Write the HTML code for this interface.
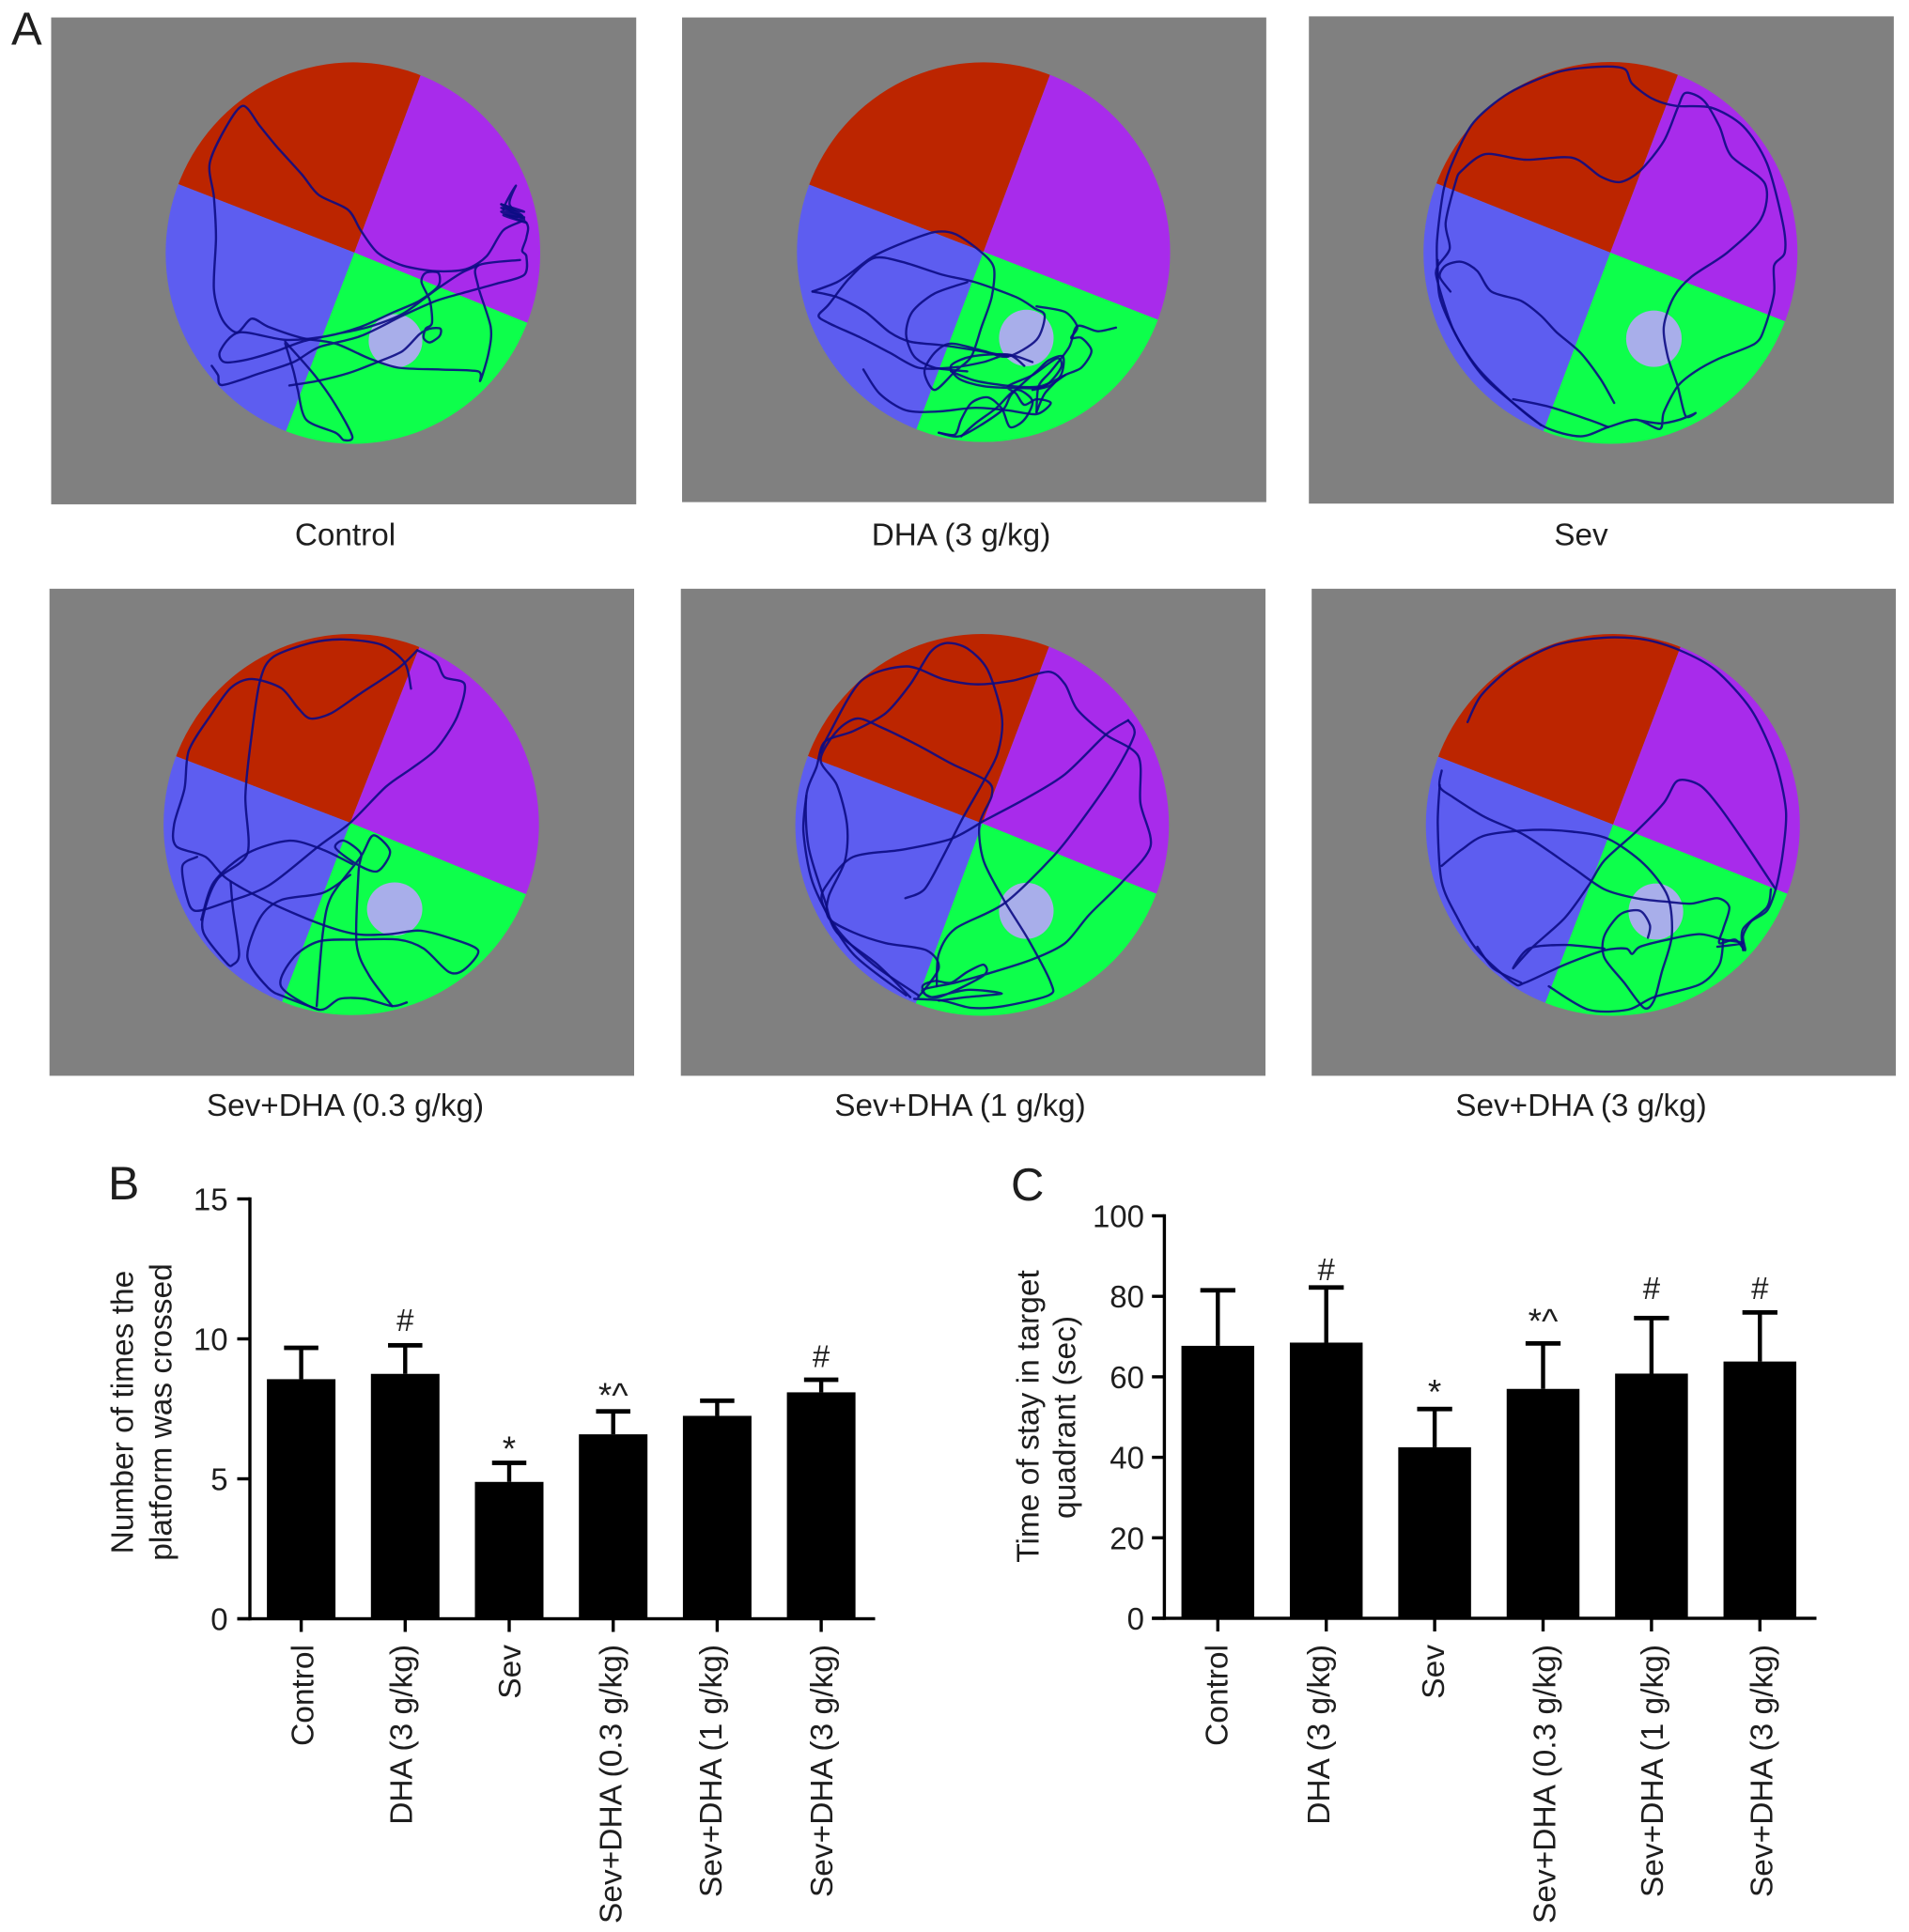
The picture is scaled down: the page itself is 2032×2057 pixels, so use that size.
<!DOCTYPE html>
<html lang="en">
<head>
<meta charset="utf-8">
<title>Water maze trajectories and platform crossing results</title>
<style>
  html, body { margin: 0; padding: 0; background: #ffffff; }
  body { width: 2032px; height: 2057px; overflow: hidden; }
  svg { display: block; }
  text { font-family: "Liberation Sans", Arial, sans-serif; fill: #1e1e1e; }
</style>
</head>
<body>
<svg id="figure" xmlns="http://www.w3.org/2000/svg" width="2032" height="2057" viewBox="0 0 2032 2057">
  <rect x="0" y="0" width="2032" height="2057" fill="#ffffff"/>
  <g id="arenas"></g>
  <g id="chart-b"></g>
  <g id="chart-c"></g>

  <text x="12" y="47.5" font-size="49">A</text>
  <text x="115" y="1277" font-size="50">B</text>
  <text x="1076" y="1278" font-size="49">C</text>

  <text x="367.5" y="580.5" font-size="33.3" text-anchor="middle">Control</text>
  <text x="1023" y="580.5" font-size="33.3" text-anchor="middle">DHA (3 g/kg)</text>
  <text x="1683" y="580.5" font-size="33.3" text-anchor="middle">Sev</text>
  <text x="367.5" y="1188" font-size="33.3" text-anchor="middle">Sev+DHA (0.3 g/kg)</text>
  <text x="1022" y="1188" font-size="33.3" text-anchor="middle">Sev+DHA (1 g/kg)</text>
  <text x="1683" y="1188" font-size="33.3" text-anchor="middle">Sev+DHA (3 g/kg)</text>

  <text font-size="33.5" text-anchor="middle" transform="translate(141.6 1503.5) rotate(-90)">Number of times the</text>
  <text font-size="33.5" text-anchor="middle" transform="translate(182.6 1503.5) rotate(-90)">platform was crossed</text>
  <text font-size="33.5" text-anchor="middle" transform="translate(1105.5 1508) rotate(-90)">Time of stay in target</text>
  <text font-size="33.5" text-anchor="middle" transform="translate(1144.7 1509) rotate(-90)">quadrant (sec)</text>
</svg>

<script>
// ---------- chart data ----------
const categories = ["Control", "DHA (3 g/kg)", "Sev", "Sev+DHA (0.3 g/kg)", "Sev+DHA (1 g/kg)", "Sev+DHA (3 g/kg)"];

const crossingsMean = [8.56, 8.75, 4.89, 6.59, 7.25, 8.09];
const crossingsError = [1.12, 1.02, 0.68, 0.82, 0.54, 0.45];
const crossingsTicks = [0, 5, 10, 15];
const crossingsMarks = ["", "#", "*", "*^", "", "#"];
const crossingsMarkGap = [0, 0.52, 0.09, 0.16, 0, 0.45];

const quadrantMean = [67.7, 68.5, 42.5, 57, 60.8, 63.8];
const quadrantError = [13.8, 13.7, 9.5, 11.3, 13.8, 12.2];
const quadrantTicks = [0, 20, 40, 60, 80, 100];
const quadrantMarks = ["", "#", "*", "*^", "#", "#"];
const quadrantMarkGap = [0, 1.8, 1.3, 2.7, 4.8, 3.4];

// ---------- swim tracks, in each arena's own trace units ----------
const trackControl = [
  [[505,985],[520,1010],[530,1037],[620,1005],[700,975],[760,935],[860,905],[960,850],[1040,810],[1100,790],[1180,765],[1250,740],[1255,690],[1245,675],[1255,640],[1255,600],[1195,550],[1245,580],[1195,570],[1250,595],[1215,550],[1230,500],[1200,570],[1250,590],[1200,620],[1160,690],[1110,725],[1040,730],[960,715],[900,680],[860,620],[830,565],[760,525],[720,470],[660,395],[620,340],[580,285],[540,340],[500,440],[510,530],[515,640],[510,780],[530,860],[565,895],[600,858],[640,880],[720,910],[800,925],[880,965],[950,990],[1050,995],[1140,1000],[1145,1025],[1165,950],[1170,880],[1140,770],[1140,715],[1240,700]],
  [[690,1038],[760,1025],[830,1005],[900,975],[960,945],[1000,900],[1025,885],[1050,885],[1048,905],[1025,922],[1010,910],[1015,885],[1030,870],[1025,810],[1005,760],[1015,735],[1045,735],[1045,770],[1000,810],[940,840],[860,880],[780,905],[680,915],[570,895],[525,945],[535,975],[590,968],[660,945],[720,920],[800,900],[880,880],[960,845],[1040,780],[1100,735],[1140,715]],
  [[680,925],[700,1000],[710,1050],[730,1130],[800,1165],[820,1185],[840,1175],[800,1090],[750,1010],[680,920]],
  [[1195,550],[1250,570],[1195,560],[1250,585],[1200,580],[1255,600]]
];
const trackDha = [
  [[505,995],[545,1060],[610,1105],[690,1108],[780,1098],[860,1105],[930,1115],[965,1085],[930,1075],[900,1090],[880,1060],[860,1040],[920,1010],[980,965],[990,990],[950,1040],[890,1045],[800,1040],[740,1020],[720,985],[770,960],[860,955],[900,985]],
  [[690,1165],[730,1170],[745,1130],[770,1085],[810,1070],[845,1100],[865,1150],[900,1130],[920,1080],[880,1050],[830,1100],[780,1140],[745,1175]],
  [[1125,882],[1080,892],[1030,878],[1010,935],[965,1000],[935,1040],[930,1110]],
  [[380,785],[440,760],[480,730],[530,690],[600,655],[680,625],[730,630],[790,675],[825,720],[820,800],[795,880],[770,960],[730,1000],[680,1050],[655,1000],[680,950],[720,925],[800,945],[860,960],[930,915],[950,850],[925,830],[880,800],[780,760],[700,740],[600,705],[530,695],[470,750],[420,820],[395,850],[420,870],[500,910],[570,950],[640,990],[720,990],[800,975],[860,955],[920,975]],
  [[380,785],[440,800],[510,840],[570,895],[620,920],[700,930],[790,945],[860,960]],
  [[760,760],[680,790],[625,840],[610,900],[630,960],[680,990],[760,1000]],
  [[930,825],[1000,840],[1030,880],[1015,910],[1040,910],[1065,945],[1040,990],[1000,1010],[960,1040],[920,1050]],
  [[690,1165],[740,1175],[800,1140],[850,1100],[870,1060],[930,1000],[960,970],[995,960],[990,1010],[950,1060],[930,1110]],
  [[720,1000],[780,1025],[870,1040],[940,1040],[1000,1010]]
];
const trackSev = [
  [[412,785],[385,745],[400,715],[440,705],[480,730],[515,785],[590,810],[640,850],[680,895],[740,950],[790,1020],[825,1085]],
  [[380,760],[378,650],[395,510],[420,430],[470,330],[560,250],[680,195],[780,180],[850,185],[870,225],[920,265],[980,285],[1070,290],[1150,340],[1210,440],[1250,600],[1255,680],[1228,715],[1228,790],[1205,880],[1180,925],[1090,965],[1030,1000],[985,1040],[950,1110],[940,1155],[880,1130],[810,1150],[740,1175],[650,1150],[570,1085],[480,990],[420,890],[380,760],[378,720],[410,670],[400,600],[425,490],[440,460],[500,415],[600,430],[720,425],[790,475],[840,490],[890,460],[950,380],[985,290],[1005,250],[1050,270],[1090,340],[1120,420],[1205,495],[1195,590],[1110,680],[1020,745],[975,800],[950,880],[960,960],[985,1040],[1005,1120],[1030,1112],[990,1130],[940,1140],[880,1130]],
  [[570,1075],[660,1095],[760,1130],[810,1150]],
  [[380,700],[385,800],[430,910],[500,1020],[640,1145]]
];
const trackLowDose = [
  [[980,322],[965,250],[910,200],[820,185],[740,195],[650,235],[620,300],[600,450],[585,620],[590,780],[520,850],[490,930],[485,1000],[540,1085],[555,1090],[570,1060],[555,930],[550,860]],
  [[995,215],[950,265],[860,335],[790,390],[740,405],[710,375],[670,320],[600,295],[550,320],[500,400],[450,495],[440,600],[415,700],[420,760],[490,790],[540,850],[640,915],[760,975],[850,1005],[930,1005],[1000,995],[1070,1015],[1140,1050],[1105,1105],[1070,1110],[1010,1045],[950,1020],[850,1020],[760,1025],[700,1070],[670,1150],[760,1215],[810,1185],[870,1185],[935,1205],[970,1195]],
  [[935,1205],[880,1120],[850,1030],[855,830],[860,780],[820,745],[800,765],[850,810],[900,830],[930,775],[890,730],[860,790],[790,900],[770,1000],[755,1205]],
  [[995,215],[1040,245],[1060,290],[1108,310],[1090,400],[1040,490],[980,545],[920,595],[835,695],[760,760],[640,870],[530,920],[465,940],[445,900],[435,815],[470,790]],
  [[835,840],[770,890],[670,910],[620,960],[590,1070],[640,1155],[680,1180],[760,1215]],
  [[480,965],[510,860],[590,780],[690,745],[770,770],[840,810]]
];
const trackMidDose = [
  [[608,905],[655,880],[700,790],[750,680],[800,580],[835,500],[845,400],[810,270],[760,210],[710,195],[670,220],[620,310],[560,390],[480,440],[410,470],[390,540],[365,620],[370,760],[410,910],[440,1000],[540,1090],[620,1180]],
  [[630,1185],[700,1190],[770,1210],[850,1205],[960,1175],[965,1140],[910,1020],[850,910],[800,800],[790,700],[820,620],[810,580],[720,530],[640,480],[550,430],[490,405],[440,440],[400,520],[440,590],[465,700],[460,800],[420,900],[420,960],[480,1000],[560,1030],[660,1050],[690,1100],[640,1180]],
  [[400,500],[420,450],[500,300],[610,260],[700,295],[780,310],[870,300],[960,275],[1000,310],[1030,380],[1100,450],[1180,510],[1185,640],[1210,760],[1140,860],[1060,950],[1000,1030],[920,1075],[810,1115],[730,1140],[650,1160],[690,1180],[800,1120],[800,1090],[760,1110],[720,1140],[680,1135],[650,1150],[670,1180],[760,1160],[845,1170],[760,1180],[690,1190]],
  [[800,690],[720,740],[600,770],[480,790],[420,860],[405,920],[480,1060],[610,1175]],
  [[1155,410],[1170,450],[1120,560],[1040,690],[970,790],[850,920],[730,990],[690,1060],[685,1150]],
  [[800,690],[900,630],[1000,560],[1100,450],[1155,410]],
  [[365,620],[358,720],[380,860],[440,990],[530,1090],[640,1175]]
];
const trackHighDose = [
  [[455,415],[490,340],[570,260],[680,200],[800,180],[900,185],[990,215],[1080,270],[1170,380],[1230,520],[1258,660],[1250,780],[1232,880],[1210,940],[1170,970],[1150,1010],[1155,1050],[1130,1020],[1090,1030],[1100,990],[1115,930],[1085,905],[1020,920],[960,915],[880,905],[800,880],[720,820],[600,730],[500,680],[420,625],[385,595],[390,550]],
  [[385,590],[380,700],[390,860],[430,960],[480,1050],[570,1140],[600,1140],[700,1090],[800,1050],[855,1045],[870,1060],[890,1040],[960,1020],[1040,1005],[1100,1020],[1150,1030],[1085,1040]],
  [[1232,880],[1160,760],[1090,650],[1040,590],[985,578],[950,640],[880,720],[800,800],[760,870],[700,960],[620,1040],[570,1100],[610,1045],[700,1035],[800,1045]],
  [[390,815],[440,770],[500,730],[620,715],[720,720],[810,740],[900,810],[960,900],[970,1010],[945,1110],[925,1190],[900,1210],[850,1140],[800,1070],[800,1010],[840,950],[890,940],[915,980],[910,1015]],
  [[660,1150],[760,1215],[860,1215],[925,1180],[1040,1145],[1090,1090],[1100,1020]],
  [[1150,1050],[1150,990],[1210,930],[1220,880]],
  [[480,1040],[520,1100],[590,1140]]
];

// ---------- helpers ----------
const NS = "http://www.w3.org/2000/svg";
function make(tag, attrs, parent) {
  const el = document.createElementNS(NS, tag);
  for (const k in attrs) el.setAttribute(k, attrs[k]);
  parent.appendChild(el);
  return el;
}
// Catmull-Rom style curve that passes through every sampled track point.
function smoothPath(points, px, py) {
  const P = points.map(function (p) { return [px(p[0]), py(p[1])]; });
  const k = 1 / 7;
  let d = "M" + P[0][0].toFixed(1) + " " + P[0][1].toFixed(1);
  for (let i = 0; i < P.length - 1; i++) {
    const a = P[Math.max(i - 1, 0)], b = P[i], c = P[i + 1], e = P[Math.min(i + 2, P.length - 1)];
    const c1x = b[0] + (c[0] - a[0]) * k, c1y = b[1] + (c[1] - a[1]) * k;
    const c2x = c[0] - (e[0] - b[0]) * k, c2y = c[1] - (e[1] - b[1]) * k;
    d += "C" + c1x.toFixed(1) + " " + c1y.toFixed(1) + " " + c2x.toFixed(1) + " " + c2y.toFixed(1) + " " + c[0].toFixed(1) + " " + c[1].toFixed(1);
  }
  return d;
}

// ---------- panel A: arenas ----------
const arenaLayouts = [
  { id: "control", ox: 0, oy: 0, sx: 2.24, sy: 2.529, rect: [122, 47, 1517, 1358], box: [395, 168, 1288, 1195], apex: [845, 680], top: [1002, 205], left: [428, 497], right: [1255, 868], bottom: [682, 1160], platform: [943, 918, 64, 72], track: trackControl },
  { id: "dha", ox: 700, oy: 0, sx: 2.306, sy: 2.529, rect: [60, 47, 1494, 1352], box: [342, 168, 1258, 1190], apex: [800, 678], top: [962, 205], left: [372, 497], right: [1226, 860], bottom: [636, 1153], platform: [905, 910, 67, 76], track: trackDha },
  { id: "sev", ox: 1370, oy: 0, sx: 2.369, sy: 2.529, rect: [55, 44, 1530, 1356], box: [344, 167, 1287, 1195], apex: [815, 680], top: [985, 203], left: [380, 495], right: [1255, 865], bottom: [650, 1150], platform: [925, 912, 70, 76], track: trackSev },
  { id: "sev-dha-low", ox: 0, oy: 610, sx: 2.24, sy: 2.613, rect: [118, 44, 1512, 1399], box: [390, 170, 1285, 1230], apex: [835, 695], top: [998, 212], left: [424, 512], right: [1252, 893], bottom: [675, 1185], platform: [941, 935, 66, 74], track: trackLowDose },
  { id: "sev-dha-mid", ox: 700, oy: 610, sx: 2.306, sy: 2.613, rect: [57, 44, 1492, 1399], box: [338, 170, 1255, 1232], apex: [797, 697], top: [960, 208], left: [370, 510], right: [1225, 893], bottom: [636, 1190], platform: [905, 940, 67, 78], track: trackMidDose },
  { id: "sev-dha-high", ox: 1370, oy: 610, sx: 2.369, sy: 2.613, rect: [62, 44, 1535, 1399], box: [350, 170, 1293, 1232], apex: [822, 700], top: [990, 212], left: [383, 512], right: [1262, 893], bottom: [653, 1190], platform: [930, 942, 69, 78], track: trackHighDose }
];
const quadrantColors = { red: "#bc2500", purple: "#a82beb", green: "#0dff4b", blue: "#5d5df0" };

function drawArena(a) {
  const px = function (x) { return a.ox + x / a.sx; };
  const py = function (y) { return a.oy + y / a.sy; };
  const root = document.getElementById("arenas");
  const g = make("g", {}, root);
  
  

  const bg = make("rect", { x: px(a.rect[0]), y: py(a.rect[1]), width: px(a.rect[2]) - px(a.rect[0]), height: py(a.rect[3]) - py(a.rect[1]), fill: "#808080" }, g);
  
  

  const cx = px((a.box[0] + a.box[2]) / 2), cy = py((a.box[1] + a.box[3]) / 2);
  const rx = (px(a.box[2]) - px(a.box[0])) / 2, ry = (py(a.box[3]) - py(a.box[1])) / 2;
  const clip = make("clipPath", { id: "clip-" + a.id }, g);
  make("ellipse", { cx: cx, cy: cy, rx: rx, ry: ry }, clip);

  const wedges = [
    ["red", a.left, a.top],
    ["purple", a.top, a.right],
    ["green", a.right, a.bottom],
    ["blue", a.bottom, a.left]
  ];
  const pool = make("g", { "clip-path": "url(#clip-" + a.id + ")" }, g);
  
  
  const ax = px(a.apex[0]), ay = py(a.apex[1]);
  wedges.forEach(function (w) {
    const ux = (px(w[1][0]) - ax) * 2, uy = (py(w[1][1]) - ay) * 2;
    const vx = (px(w[2][0]) - ax) * 2, vy = (py(w[2][1]) - ay) * 2;
    const pts = [[ax, ay], [ax + ux, ay + uy], [ax + ux + vx, ay + uy + vy], [ax + vx, ay + vy]];
    const q = make("polygon", { points: pts.map(function (p) { return p[0].toFixed(1) + "," + p[1].toFixed(1); }).join(" "), fill: quadrantColors[w[0]] }, pool);
    
    
  });

  const plat = make("ellipse", { cx: px(a.platform[0]), cy: py(a.platform[1]), rx: a.platform[2] / a.sx, ry: a.platform[3] / a.sy, fill: "#a8aeea" }, g);
  
  

  a.track.forEach(function (seg) {
    const t = make("path", { d: smoothPath(seg, px, py), fill: "none", stroke: "#0c0c84", "stroke-opacity": "0.9", "stroke-width": "2.4", "stroke-linejoin": "round", "stroke-linecap": "round" }, g);
    
    
  });
}
arenaLayouts.forEach(drawArena);

// ---------- panels B and C: bar charts ----------
function drawBarChart(cfg, means, errors, ticks, marks, gaps) {
  const root = document.getElementById(cfg.target);
  const y = function (v) { return cfg.y0 - (v / cfg.max) * (cfg.y0 - cfg.yTop); };
  const x = function (i) { return cfg.x0 + i * cfg.step; };

  means.forEach(function (m, i) {
    const top = m + errors[i];
    const stem = make("rect", { x: x(i) - 2.2, y: y(top), width: 4.4, height: y(m) - y(top), fill: "#000" }, root);
    
    
    const cap = make("rect", { x: x(i) - cfg.capW / 2, y: y(top) - 2.4, width: cfg.capW, height: 4.8, fill: "#000" }, root);
    
    
    const bar = make("rect", { x: x(i) - cfg.barW / 2, y: y(m), width: cfg.barW, height: cfg.y0 - y(m), fill: "#000" }, root);
    
    

    if (marks[i]) {
      const isStar = marks[i].charAt(0) === "*";
      const mk = make("text", { x: x(i), y: y(top + gaps[i]), "font-size": isStar ? 37 : 33, "text-anchor": "middle" }, root);
      mk.textContent = marks[i];
      
      
    }

    const tick = make("rect", { x: x(i) - 1.7, y: cfg.y0, width: 3.4, height: 14, fill: "#000" }, root);
    
    

    const bx = x(i) + cfg.labelNudge[i], by = 1751;
    const lab = make("text", { "font-size": 33.5, "text-anchor": "end", transform: "translate(" + bx + " " + by + ") rotate(-90)" }, root);
    lab.textContent = categories[i];
    
    
  });

  const yAxis = make("rect", { x: cfg.axisX - 1.7, y: cfg.yTop - 1.7, width: 3.4, height: cfg.y0 - cfg.yTop + 3.4, fill: "#000" }, root);
  
  
  const xAxis = make("rect", { x: cfg.tickX, y: cfg.y0 - 1.7, width: cfg.axisEnd - cfg.tickX, height: 3.4, fill: "#000" }, root);
  
  

  ticks.forEach(function (t) {
    const tk = make("rect", { x: cfg.tickX, y: y(t) - 1.7, width: cfg.axisX - cfg.tickX, height: 3.4, fill: "#000" }, root);
    
    
    const lb = make("text", { x: cfg.labelX, y: y(t) + 12, "font-size": 33, "text-anchor": "end" }, root);
    lb.textContent = String(t);
    
    
  });
}

drawBarChart(
  { target: "chart-b", max: 15, y0: 1723.5, yTop: 1276.5, x0: 320.6, step: 110.7, barW: 73, capW: 36.5, axisX: 266, tickX: 252.5, axisEnd: 931.5, labelX: 242.6, labelNudge: [13, 7, 12, 9, 4.5, 12] },
  crossingsMean, crossingsError, crossingsTicks, crossingsMarks, crossingsMarkGap
);
drawBarChart(
  { target: "chart-c", max: 100, y0: 1723, yTop: 1294.5, x0: 1296.3, step: 115.4, barW: 77.5, capW: 37.3, axisX: 1239.4, tickX: 1226.2, axisEnd: 1933.5, labelX: 1218, labelNudge: [10, 3.5, 10, 13, 12, 13] },
  quadrantMean, quadrantError, quadrantTicks, quadrantMarks, quadrantMarkGap
);
</script>
</body>
</html>
